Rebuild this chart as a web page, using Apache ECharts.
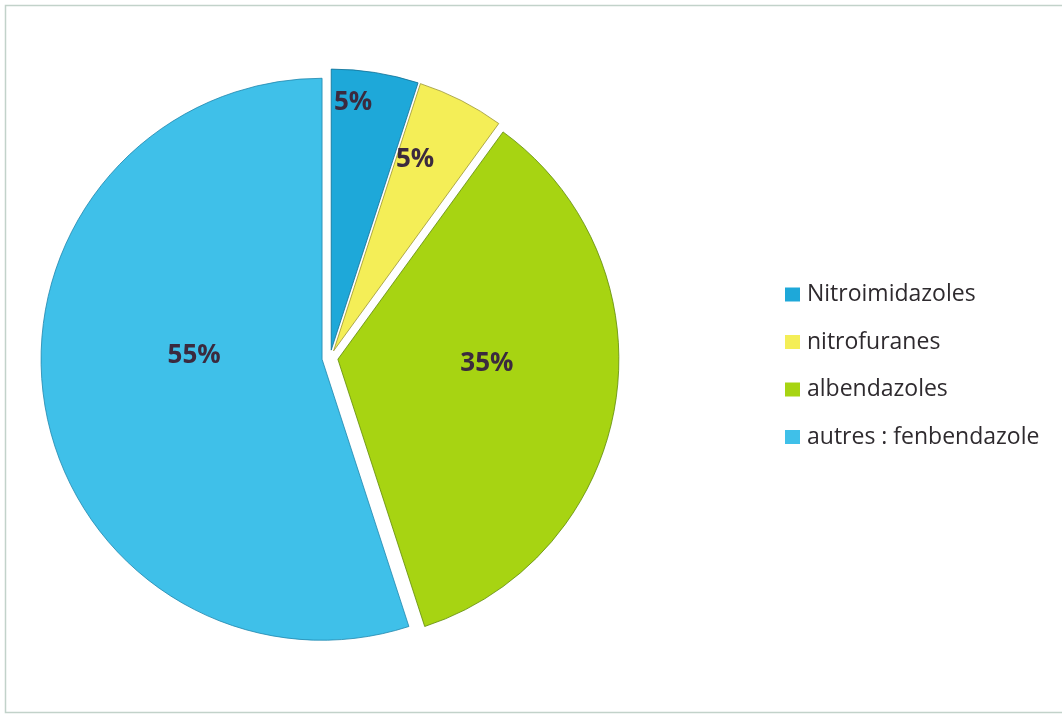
<!DOCTYPE html>
<html>
<head>
<meta charset="utf-8">
<title>Répartition des antiparasitaires</title>
<script src="https://cdn.jsdelivr.net/npm/echarts@6/dist/echarts.min.js"></script>
<style>
  html, body { margin: 0; padding: 0; background: #ffffff; }
  #chart { width: 1062px; height: 716px; }
</style>
</head>
<body>
<div id="chart"></div>
<script>
// Families of molecules and their share (%)
const categories = ['Nitroimidazoles', 'nitrofuranes', 'albendazoles', 'autres : fenbendazole'];
const shares = [5, 5, 35, 55];

// Slice colours, one per family
const sliceColors = ['#1ea8d9', '#f4ee57', '#a7d412', '#3fc0e9'];
const edgeColors = ['#0f6f94', '#9a9530', '#5f8a08', '#1f86ad'];

// Where each percentage sits inside its slice: fraction of the radius, and a turn (deg) from the mid-angle
const labelSpots = [
  { at: 0.875, turn: -4 },
  { at: 0.73, turn: -4 },
  { at: 0.52, turn: -7.5 },
  { at: 0.445, turn: 11 }
];

const RADIUS = 281;
const total = shares.reduce((a, b) => a + b, 0);

function midAngle(i) {
  const before = shares.slice(0, i).reduce((a, b) => a + b, 0);
  return (before + shares[i] / 2) / total * 360;
}

const chart = echarts.init(document.getElementById('chart'), null, { renderer: 'canvas' });

const option = {
  backgroundColor: '#ffffff',
  animation: false,
  graphic: [{
    type: 'rect',
    silent: true,
    shape: { x: 5.5, y: 5.5, width: 1100, height: 707 },
    style: { fill: 'none', stroke: '#c2d2ca', lineWidth: 1.5 }
  }],
  legend: {
    orient: 'vertical',
    left: 780,
    top: 278,
    itemWidth: 15,
    itemHeight: 14,
    itemGap: 24.5,
    icon: 'rect',
    data: categories,
    itemStyle: { borderWidth: 0 },
    textStyle: {
      fontFamily: 'Open Sans',
      fontSize: 23,
      color: '#2e2a2e',
      padding: [0, 0, 0, 2]
    }
  },
  series: [{
    type: 'pie',
    center: ['31.07%', '50%'],
    radius: RADIUS,
    startAngle: 90,
    clockwise: true,
    selectedMode: 'multiple',
    selectedOffset: 8,
    emphasis: { disabled: true },
    label: {
      show: true,
      position: 'inside',
      formatter: '{c}%',
      fontFamily: 'Open Sans',
      fontWeight: 'bold',
      fontSize: 26,
      color: '#3b2a3e'
    },
    labelLine: { show: false },
    labelLayout: function (p) {
      const i = p.dataIndex;
      const spot = labelSpots[i];
      const a0 = midAngle(i) * Math.PI / 180;
      const a1 = (midAngle(i) + spot.turn) * Math.PI / 180;
      return {
        dx: RADIUS * (spot.at * Math.sin(a1) - 0.5 * Math.sin(a0)),
        dy: -RADIUS * (spot.at * Math.cos(a1) - 0.5 * Math.cos(a0))
      };
    },
    data: categories.map((name, i) => ({
      name: name,
      value: shares[i],
      selected: true,
      itemStyle: {
        color: sliceColors[i],
        borderColor: edgeColors[i],
        borderWidth: 0.8
      },
      select: {
        itemStyle: {
          color: sliceColors[i],
          borderColor: edgeColors[i],
          borderWidth: 0.8
        }
      }
    }))
  }]
};

chart.setOption(option);
</script>
</body>
</html>
